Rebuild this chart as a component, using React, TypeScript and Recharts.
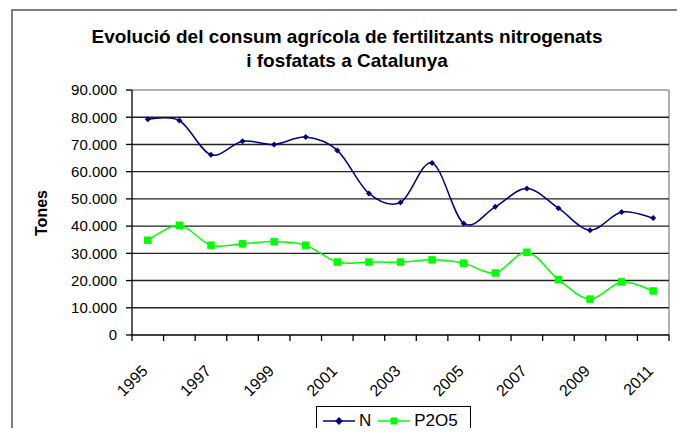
import { LineChart, Line, XAxis, YAxis, CartesianGrid } from 'recharts'

const years = [
  '1995', '1996', '1997', '1998', '1999', '2000', '2001', '2002', '2003',
  '2004', '2005', '2006', '2007', '2008', '2009', '2010', '2011',
]
// tones de N
const nitrogen = [
  79300, 78800, 66200, 71200, 70000, 72700, 67800, 52000, 48700,
  63200, 41000, 47100, 53800, 46600, 38500, 45200, 43000,
]
// tones de P2O5
const phosphate = [
  34800, 40300, 33000, 33500, 34300, 33000, 26800, 26800, 26800,
  27600, 26400, 22800, 30400, 20400, 13200, 19500, 16200,
]
const yTicks = [0, 10000, 20000, 30000, 40000, 50000, 60000, 70000, 80000, 90000]

const FONT = '"Liberation Sans", Arial, sans-serif'
const NAVY = '#000080'
const GREEN = '#00ff00'

const W = 685
const H = 436
const M = { top: 90, right: 16, bottom: 0, left: 0 }
const Y_W = 132
const X_H = 101
const BAND = (W - M.left - M.right - Y_W) / years.length

const data = years.map((year, i) => ({ year, N: nitrogen[i], P2O5: phosphate[i] }))

// suavitzat tipus Excel (Catmull-Rom)
function smoothCurve(context: any) {
  let pts: number[][] = []
  return {
    areaStart() {},
    areaEnd() {},
    lineStart() { pts = [] },
    lineEnd() {
      if (!pts.length) return
      context.moveTo(pts[0][0], pts[0][1])
      for (let i = 0; i < pts.length - 1; i++) {
        const p0 = pts[Math.max(i - 1, 0)]
        const p1 = pts[i]
        const p2 = pts[i + 1]
        const p3 = pts[Math.min(i + 2, pts.length - 1)]
        context.bezierCurveTo(
          p1[0] + (p2[0] - p0[0]) / 6, p1[1] + (p2[1] - p0[1]) / 6,
          p2[0] - (p3[0] - p1[0]) / 6, p2[1] - (p3[1] - p1[1]) / 6,
          p2[0], p2[1],
        )
      }
    },
    point(x: number, y: number) { pts.push([+x, +y]) },
  }
}

function Diamond({ cx, cy, r = 4.5 }: { cx?: number; cy?: number; r?: number }) {
  if (cx == null || cy == null) return null
  return <path d={`M${cx},${cy - r}L${cx + r},${cy}L${cx},${cy + r}L${cx - r},${cy}Z`} fill={NAVY} />
}

function Square({ cx, cy, s = 7.5 }: { cx?: number; cy?: number; s?: number }) {
  if (cx == null || cy == null) return null
  return <rect x={cx - s / 2} y={cy - s / 2} width={s} height={s} fill={GREEN} />
}

function YearTick({ x, y, payload, index }: { x?: number; y?: number; payload?: { value: string }; index?: number }) {
  if (x == null || y == null || !payload) return null
  const h = BAND / 2
  const tx = x + 1
  const ty = y + 37
  return (
    <g>
      <line x1={x - h} y1={y} x2={x - h} y2={y + 6} stroke="#000" strokeWidth={1.3} />
      {index === years.length - 1 && (
        <line x1={x + h} y1={y} x2={x + h} y2={y + 6} stroke="#000" strokeWidth={1.3} />
      )}
      {index! % 2 === 0 && (
        <text x={tx} y={ty} transform={`rotate(-45 ${tx} ${ty})`} textAnchor="end"
          fontSize={16} fontFamily={FONT} fill="#000">
          {payload.value}
        </text>
      )}
    </g>
  )
}

const series = [
  { key: 'N', color: NAVY, marker: 'diamond' },
  { key: 'P2O5', color: GREEN, marker: 'square' },
]

function LegendBox() {
  return (
    <div style={{
      position: 'absolute', left: 316, top: 406, width: 155, height: 40, boxSizing: 'border-box',
      border: '1.5px solid #000', background: '#fff', display: 'flex', alignItems: 'flex-start',
      paddingLeft: 5, paddingTop: 4, fontFamily: FONT, fontSize: 17, color: '#000',
    }}>
      {series.map((s) => (
        <div key={s.key} style={{ display: 'flex', alignItems: 'center', marginRight: 6 }}>
          <svg width={34} height={20}>
            <line x1={1} y1={10} x2={33} y2={10} stroke={s.color} strokeWidth={1.5} />
            {s.marker === 'diamond' ? <Diamond cx={17} cy={10} r={4} /> : <Square cx={17} cy={10} s={7} />}
          </svg>
          <span style={{ marginLeft: 3 }}>{s.key}</span>
        </div>
      ))}
    </div>
  )
}

export default function App() {
  return (
    <div style={{ position: 'relative', width: W, height: H, margin: -8, overflow: 'hidden', background: '#fff' }}>
      <div style={{
        position: 'absolute', left: 11, top: 9, width: 669, height: 520, boxSizing: 'border-box',
        border: '2px solid #7f7f7f',
      }} />
      <div style={{
        position: 'absolute', left: 0, top: 25, width: 694, textAlign: 'center',
        fontFamily: FONT, fontWeight: 'bold', fontSize: 19, lineHeight: '24px', color: '#000',
      }}>
        Evolució del consum agrícola de fertilitzants nitrogenats<br />i fosfatats a Catalunya
      </div>
      <div style={{
        position: 'absolute', left: 42, top: 213, transform: 'translate(-50%, -50%) rotate(-90deg)',
        fontFamily: FONT, fontWeight: 'bold', fontSize: 16, color: '#000',
      }}>
        Tones
      </div>
      <div style={{ position: 'absolute', left: 0, top: 0 }}>
        <LineChart width={W} height={H} data={data} margin={M}>
          {/* vora de l'àrea de traçat */}
          <CartesianGrid stroke="#999" strokeWidth={1.5} horizontalValues={[90000]}
            verticalCoordinatesGenerator={({ offset }: any) => [offset.left + offset.width]} />
          <CartesianGrid vertical={false} stroke="#222" strokeWidth={1.4}
            horizontalValues={yTicks.slice(1, -1)} />
          <XAxis dataKey="year" interval={0} height={X_H} tickLine={false} tickSize={0} tickMargin={0}
            padding={{ left: BAND / 2, right: BAND / 2 }}
            axisLine={{ stroke: '#000', strokeWidth: 1.3 }} tick={<YearTick />} />
          <YAxis width={Y_W} domain={[0, 90000]} ticks={yTicks} interval={0} tickSize={6} tickMargin={9}
            axisLine={{ stroke: '#000', strokeWidth: 1.3 }} tickLine={{ stroke: '#000', strokeWidth: 1.3 }}
            tick={{ fontSize: 15, fontFamily: FONT, fill: '#000' }}
            tickFormatter={(v: number) => (v === 0 ? '0' : `${v / 1000}.000`)} />
          <Line dataKey="N" type={smoothCurve as any} stroke={NAVY} strokeWidth={1.5}
            dot={<Diamond />} activeDot={false} isAnimationActive={false} />
          <Line dataKey="P2O5" type={smoothCurve as any} stroke={GREEN} strokeWidth={1.5}
            dot={<Square />} activeDot={false} isAnimationActive={false} />
        </LineChart>
      </div>
      <LegendBox />
    </div>
  )
}
